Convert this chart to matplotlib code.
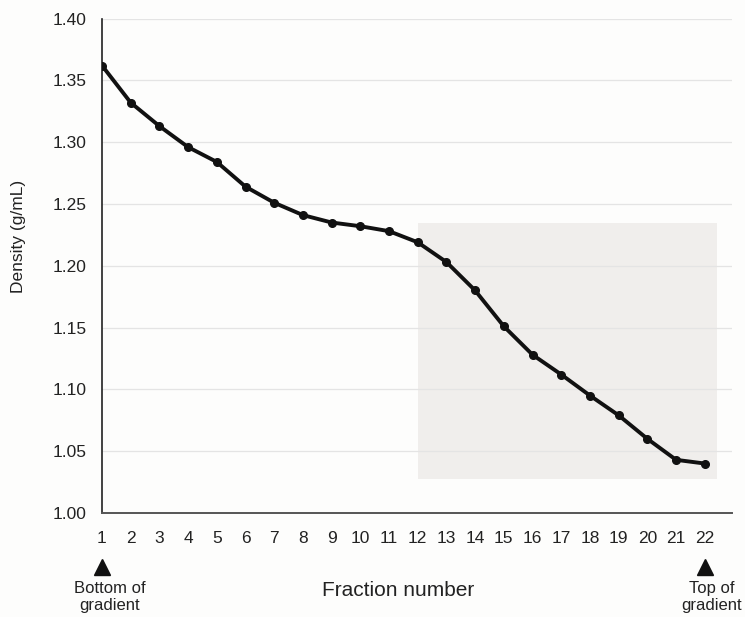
import matplotlib.pyplot as plt
from matplotlib.patches import Rectangle

plt.rcParams['font.family'] = ['Liberation Sans', 'DejaVu Sans']

# data
fractions = list(range(1, 23))
density = [1.362, 1.332, 1.313, 1.296, 1.284, 1.264, 1.251, 1.241, 1.235, 1.232,
           1.228, 1.219, 1.203, 1.180, 1.151, 1.128, 1.112, 1.095, 1.079, 1.060,
           1.043, 1.040]
yticks = [1.00, 1.05, 1.10, 1.15, 1.20, 1.25, 1.30, 1.35, 1.40]
shade_x = (12.0, 22.42)
shade_y = (1.0275, 1.235)

fig = plt.figure(figsize=(7.45, 6.17), dpi=100)
fig.patch.set_facecolor('#fdfdfc')
ax = fig.add_axes([0.1369, 0.1686, 0.8457, 0.8013])
ax.set_facecolor('#fdfdfc')

ax.add_patch(Rectangle((shade_x[0], shade_y[0]), shade_x[1] - shade_x[0],
                       shade_y[1] - shade_y[0], facecolor='#f0eeec',
                       edgecolor='none', zorder=0))

for yv in yticks[1:]:
    ax.axhline(yv, color='#e4e4e4', lw=0.9, zorder=1)

ax.plot(fractions, density, color='#111111', lw=2.8, marker='o', ms=5.5,
        zorder=3, solid_joinstyle='round')

ax.set_xlim(1, 22.95)
ax.set_ylim(1.0, 1.40)
ax.set_xticks(fractions)
ax.set_yticks(yticks)
ax.set_yticklabels(['%.2f' % v for v in yticks])
ax.tick_params(axis='both', length=0, labelsize=12.5, colors='#222222')
ax.tick_params(axis='x', pad=13)
ax.tick_params(axis='y', pad=11)

for s in ['top', 'right']:
    ax.spines[s].set_visible(False)
ax.spines['left'].set_color('#222222')
ax.spines['left'].set_linewidth(1.2)
ax.spines['bottom'].set_color('#555555')
ax.spines['bottom'].set_linewidth(1.4)

# axis titles
fig.text(398 / 745, 1 - 590 / 617, 'Fraction number', ha='center', va='center',
         fontsize=15, color='#222222')
fig.text(19 / 745, 1 - 236 / 617, 'Density (g/mL)', ha='center', va='center',
         rotation=90, fontsize=12.5, color='#222222')

# gradient markers below the axis
tr = ax.get_xaxis_transform()
for xv in (1, 22):
    ax.plot([xv], [-0.11], marker='^', ms=11, color='#111111',
            transform=tr, clip_on=False)
fig.text(110 / 745, 1 - 597 / 617, 'Bottom of\ngradient', ha='center',
         va='center', fontsize=12, color='#222222', linespacing=1.2)
fig.text(712 / 745, 1 - 597 / 617, 'Top of\ngradient', ha='center',
         va='center', fontsize=12, color='#222222', linespacing=1.2)

fig.savefig('out.png', dpi=100, facecolor=fig.get_facecolor())
